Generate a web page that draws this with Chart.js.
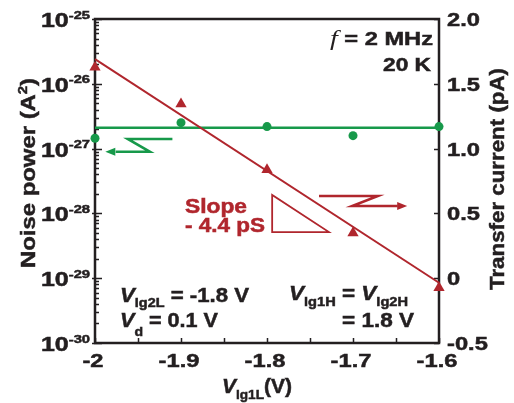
<!DOCTYPE html>
<html>
<head>
<meta charset="utf-8">
<script src="https://cdn.jsdelivr.net/npm/chart.js@4.4.1/dist/chart.umd.min.js"></script>
<style>
  html, body { margin: 0; padding: 0; background: #fff; }
</style>
</head>
<body>
<canvas id="noiseChart" width="514" height="403"></canvas>
<script>
// --- values
const gateVoltages    = [-2, -1.9, -1.8, -1.7, -1.6];                  // V_lg1L (V)
const noisePower      = [1.8e-26, 4.9e-27, 4.7e-28, 5.0e-29, 7.1e-30];  // A^2, left axis
const transferCurrent = [1.08, 1.2, 1.17, 1.1, 1.17];                  // pA, right axis
const fitVoltages     = [-2, -1.6];
const noiseFit        = [2.4e-26, 8.5e-30];                            // slope line
const currentMean     = [1.16, 1.16];                                  // flat line
const xTicks          = [-2, -1.9, -1.8, -1.7, -1.6];
const xTickLabels     = ['-2', '-1.9', '-1.8', '-1.7', '-1.6'];
const leftDecades     = [-25, -26, -27, -28, -29, -30];
const rightTicks      = [2.0, 1.5, 1.0, 0.5, 0, -0.5];
const rightTickLabels = ['2.0', '1.5', '1.0', '0.5', '0', '-0.5'];

const RED = '#b0262d';
const GREEN = '#17994a';
const INK = '#231f20';

function fontOf(s) {
    return (s.style || 'bold') + ' ' + s.size + 'px ' + (s.family || '"Liberation Sans", Arial, sans-serif');
}

// draw a run of text pieces (sub/superscripts via dy), stretched horizontally
function richText(ctx, x, y, segs, opt) {
    opt = opt || {};
    let w = 0;
    segs.forEach(s => { ctx.font = fontOf(s); s.w = ctx.measureText(s.t).width; w += s.w; });
    const sx = opt.width ? opt.width / w : (opt.sx || 1.28);
    ctx.save();
    ctx.translate(x, y);
    if (opt.rotate) ctx.rotate(opt.rotate);
    ctx.scale(sx, 1);
    ctx.fillStyle = opt.color || INK;
    ctx.strokeStyle = opt.color || INK;
    ctx.lineWidth = 0.5;   // a bit heavier, like the printed figure
    ctx.textAlign = 'left';
    ctx.textBaseline = 'alphabetic';
    let cx = opt.align === 'right' ? -w : opt.align === 'center' ? -w / 2 : 0;
    segs.forEach(s => {
        ctx.font = fontOf(s);
        ctx.fillText(s.t, cx, s.dy || 0);
        if (!s.style || s.style.indexOf('bold') >= 0) ctx.strokeText(s.t, cx, s.dy || 0);
        cx += s.w;
    });
    ctx.restore();
}

function arrowHead(ctx, tx, ty, dir) {
    ctx.beginPath();
    ctx.moveTo(tx, ty);
    ctx.lineTo(tx - dir * 10, ty - 4);
    ctx.lineTo(tx - dir * 10, ty + 4);
    ctx.closePath();
    ctx.fill();
}

// 📐 frame + inward ticks, drawn under the markers
const framePlugin = {
    id: 'frame',
    beforeDatasetsDraw(chart) {
        const { ctx, chartArea: a, scales } = chart;
        ctx.save();
        ctx.strokeStyle = INK;
        ctx.lineWidth = 1.5;
        ctx.beginPath();
        // left log ticks
        leftDecades.forEach(e => {
            for (let m = 1; m <= 9; m++) {
                if (e === -25 && m > 1) break;
                const y = Math.round(scales.yL.getPixelForValue(m * Math.pow(10, e))) + 0.5;
                const len = m === 1 ? 7 : 4;
                ctx.moveTo(a.left - (m === 1 ? 3 : 0), y);
                ctx.lineTo(a.left + len, y);
            }
        });
        // right ticks
        rightTicks.forEach(v => {
            const y = Math.round(scales.yR.getPixelForValue(v)) + 0.5;
            ctx.moveTo(a.right, y);
            ctx.lineTo(a.right - 5, y);
        });
        // bottom ticks every 0.05 V
        for (let i = 0; i <= 8; i++) {
            const x = Math.round(scales.x.getPixelForValue(-2 + i * 0.05)) + 0.5;
            ctx.moveTo(x, a.bottom);
            ctx.lineTo(x, a.bottom - 5);
        }
        ctx.stroke();
        ctx.lineWidth = 2.5;
        ctx.strokeRect(a.left, a.top, a.right - a.left, a.bottom - a.top);
        ctx.restore();
    },
    afterDraw(chart) {
        const { ctx, chartArea: a, scales } = chart;
        const X = v => scales.x.getPixelForValue(v);
        const YR = v => scales.yR.getPixelForValue(v);
        ctx.save();

        // tick labels
        leftDecades.forEach(e => {
            const y = scales.yL.getPixelForValue(Math.pow(10, e));
            richText(ctx, a.left - 5, y + 8, [
                { t: '10', size: 19.5 },
                { t: String(e), size: 11.5, dy: -8.5 }
            ], { align: 'right' });
        });
        rightTicks.forEach((v, i) => {
            richText(ctx, a.right + 8, YR(v) + 7, [{ t: rightTickLabels[i], size: 18.5 }]);
        });
        xTicks.forEach((v, i) => {
            richText(ctx, X(v) - 2, a.bottom + 24, [{ t: xTickLabels[i], size: 18.5 }], { align: 'center' });
        });

        // axis titles
        richText(ctx, 35, 173, [
            { t: 'Noise power (A', size: 21 },
            { t: '2', size: 13, dy: -8 },
            { t: ')', size: 21 }
        ], { align: 'center', rotate: -Math.PI / 2, width: 190 });
        richText(ctx, 504, 179, [{ t: 'Transfer current (pA)', size: 21 }],
            { align: 'center', rotate: -Math.PI / 2, width: 222 });
        richText(ctx, 222, 393, [
            { t: 'V', size: 20, style: 'italic bold' },
            { t: 'lg1L', size: 13, dy: 6 },
            { t: '(V)', size: 20 }
        ], { width: 70 });

        // annotations
        richText(ctx, 433, 45, [
            { t: 'f', size: 22, style: 'italic', family: '"Liberation Serif", serif' },
            { t: ' = 2 MHz', size: 18.5 }
        ], { align: 'right', width: 103 });
        richText(ctx, 431, 71, [{ t: '20 K', size: 18.5 }], { align: 'right', width: 48 });
        richText(ctx, 185, 213, [{ t: 'Slope', size: 20 }], { color: RED, width: 62 });
        richText(ctx, 185, 232, [{ t: '- 4.4 pS', size: 20 }], { color: RED, width: 80 });
        richText(ctx, 120, 302, [
            { t: 'V', size: 20, style: 'italic bold' },
            { t: 'lg2L', size: 13, dy: 5 },
            { t: ' = -1.8 V', size: 20 }
        ], { width: 129 });
        richText(ctx, 120, 327, [
            { t: 'V', size: 20, style: 'italic bold' },
            { t: 'd', size: 13, dy: 9 },
            { t: ' = 0.1 V', size: 20 }
        ], { width: 98 });
        richText(ctx, 289, 300, [
            { t: 'V', size: 20, style: 'italic bold' },
            { t: 'lg1H', size: 13, dy: 6 },
            { t: ' = ', size: 20 },
            { t: 'V', size: 20, style: 'italic bold' },
            { t: 'lg2H', size: 13, dy: 6 }
        ], { width: 119 });
        richText(ctx, 342, 327, [{ t: '= 1.8 V', size: 20 }], { width: 72 });

        // slope triangle
        ctx.strokeStyle = RED;
        ctx.lineWidth = 1.8;
        ctx.beginPath();
        ctx.moveTo(X(-1.794), YR(0.642));
        ctx.lineTo(X(-1.794), YR(0.356));
        ctx.lineTo(X(-1.728), YR(0.356));
        ctx.closePath();
        ctx.stroke();

        // red arrow -> right axis
        ctx.lineWidth = 2.5;
        ctx.fillStyle = RED;
        ctx.beginPath();
        ctx.moveTo(X(-1.7395), YR(0.634));
        ctx.lineTo(X(-1.671), YR(0.634));
        ctx.lineTo(X(-1.701), YR(0.557));
        ctx.lineTo(X(-1.648), YR(0.557));
        ctx.stroke();
        arrowHead(ctx, X(-1.637), YR(0.557), 1);

        // green arrow -> left axis
        ctx.strokeStyle = GREEN;
        ctx.fillStyle = GREEN;
        ctx.beginPath();
        ctx.moveTo(X(-1.91), YR(1.075));
        ctx.lineTo(X(-1.962), YR(1.075));
        ctx.lineTo(X(-1.936), YR(0.975));
        ctx.lineTo(X(-1.976), YR(0.975));
        ctx.stroke();
        arrowHead(ctx, X(-1.988), YR(0.975), -1);

        ctx.restore();
    }
};

// 📊 chart
const pts = (xs, ys) => xs.map((x, i) => ({ x: x, y: ys[i] }));

new Chart(document.getElementById('noiseChart').getContext('2d'), {
    type: 'scatter',
    data: {
        datasets: [
            {
                data: pts(fitVoltages, noiseFit), yAxisID: 'yL', showLine: true,
                borderColor: RED, borderWidth: 2, pointRadius: 0, clip: false
            },
            {
                data: pts(fitVoltages, currentMean), yAxisID: 'yR', showLine: true,
                borderColor: GREEN, borderWidth: 2.5, pointRadius: 0, clip: false
            },
            {
                data: pts(gateVoltages, noisePower), yAxisID: 'yL',
                pointStyle: 'triangle', pointRadius: 6.5, borderWidth: 0,
                backgroundColor: RED, borderColor: RED, clip: false
            },
            {
                data: pts(gateVoltages, transferCurrent), yAxisID: 'yR',
                pointStyle: 'circle', pointRadius: 4.5, borderWidth: 0,
                backgroundColor: GREEN, borderColor: GREEN, clip: false
            }
        ]
    },
    options: {
        responsive: false,
        animation: false,
        devicePixelRatio: 1,
        layout: { padding: { left: 95, right: 75, top: 19, bottom: 60 } },
        scales: {
            x:  { type: 'linear', min: -2, max: -1.6, display: false },
            yL: { type: 'logarithmic', position: 'left', min: 1e-30, max: 1e-25, display: false },
            yR: { type: 'linear', position: 'right', min: -0.5, max: 2.0, display: false }
        },
        plugins: {
            legend: { display: false },
            tooltip: { enabled: false }
        }
    },
    plugins: [framePlugin]
});
</script>
</body>
</html>
